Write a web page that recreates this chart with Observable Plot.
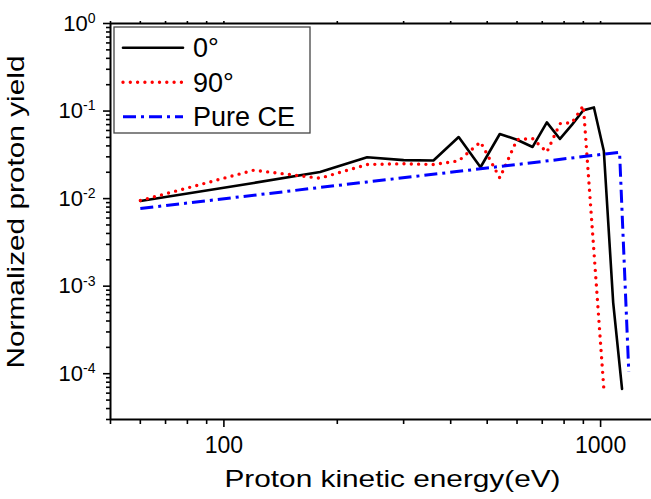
<!DOCTYPE html>
<html><head><meta charset="utf-8">
<script src="https://cdn.jsdelivr.net/npm/d3@7"></script>
<script src="https://cdn.jsdelivr.net/npm/@observablehq/plot@0.6"></script>
<style>
body{margin:0;background:#fff}
#chart svg{font-family:"Liberation Sans",Arial,sans-serif}
</style>
</head><body><div id="chart"></div>
<script>
// ---- data ----
const energy0 = [60,120,180,240,300,360,420,480,540,600,660,720,780,840,900,960,1020,1080,1140];
const yield0  = [0.0094,0.0151,0.0201,0.0297,0.0275,0.0272,0.0505,0.0228,0.0547,0.047,0.0389,0.0743,0.048,0.070,0.102,0.110,0.035,0.00065,0.000067];
const energy90 = [60,120,180,240,300,360,420,480,540,600,660,720,780,840,900,960,1020];
const yield90  = [0.0095,0.0211,0.0171,0.0245,0.025,0.0245,0.027,0.0443,0.0172,0.0472,0.0485,0.034,0.0718,0.074,0.115,0.0025,0.000067];
const energyCE = [60,240,480,1123,1188];
const yieldCE  = [0.0077,0.0155,0.0219,0.0338,0.000105];
const seriesNames = ["0°","90°","Pure CE"];
const xMajorTicks = [100,1000];
const xTickLabels = ["100","1000"];
const yMajorTicks = [1,0.1,0.01,0.001,0.0001];
const yTickExponents = ["0","-1","-2","-3","-4"];
const xTitle = "Proton kinetic energy(eV)";
const yTitle = "Normalized proton yield";

const xDomain = [50,1365], yDomain = [3e-5,1];
const xMinor = [];
for (const k of [1,2]) for (let m=2;m<=9;m++){const v=m*Math.pow(10,k); if(v>=xDomain[0]&&v<=xDomain[1]) xMinor.push(v);}
const yMinor = [];
for (let e=-5;e<=-1;e++) for (let m=2;m<=9;m++){const v=m*Math.pow(10,e); if(v>=yDomain[0]&&v<=yDomain[1]) yMinor.push(v);}

const rows = (xs, ys, s) => xs.map((x,i)=>({x, y: ys[i], s}));
const d0 = rows(energy0, yield0, seriesNames[0]);
const d90 = rows(energy90, yield90, seriesNames[1]);
const dCE = rows(energyCE, yieldCE, seriesNames[2]);

const styles = [
  {stroke:"#000000", strokeWidth:2.6, strokeDasharray:null, strokeLinecap:"round"},
  {stroke:"#ff0000", strokeWidth:3.4, strokeDasharray:"0 7.3", strokeLinecap:"round"},
  {stroke:"#0000ff", strokeWidth:3, strokeDasharray:"13 5 3 5", strokeLinecap:"butt"}
];

const chart = Plot.plot({
  width: 651, height: 499,
  marginLeft: 110, marginRight: 0, marginTop: 23, marginBottom: 80,
  style: {fontFamily: "Liberation Sans, Arial, sans-serif", background: "white", color: "black"},
  x: {type: "log", domain: xDomain},
  y: {type: "log", domain: yDomain},
  marks: [
    Plot.axisX(xMinor, {anchor: "bottom", tickSize: 5, tickFormat: () => "", label: null, strokeWidth: 1.6}),
    Plot.axisX(xMajorTicks, {anchor: "bottom", tickSize: 8, tickPadding: 9, fontSize: 23, label: null, strokeWidth: 1.6,
      tickFormat: d => xTickLabels[xMajorTicks.indexOf(d)]}),
    Plot.axisX(xMinor.concat(xMajorTicks), {anchor: "top", tickSize: 3, tickFormat: () => "", label: null, strokeWidth: 1.6}),
    Plot.axisY(yMinor, {anchor: "left", tickSize: 4, tickFormat: () => "", label: null, strokeWidth: 1.6}),
    Plot.axisY(yMajorTicks, {anchor: "left", tickSize: 7, tickPadding: 8, fontSize: 22, label: null, strokeWidth: 1.6,
      tickFormat: () => "10"}),
    Plot.ruleY([yDomain[1]], {strokeWidth: 2}),
    Plot.ruleY([yDomain[0]], {strokeWidth: 2}),
    Plot.ruleX([xDomain[0]], {strokeWidth: 2}),
    Plot.line(d0, {x: "x", y: "y", ...styles[0]}),
    Plot.line(d90, {x: "x", y: "y", ...styles[1]}),
    Plot.line(dCE, {x: "x", y: "y", ...styles[2]}),
    Plot.text([xTitle], {text: d => d, frameAnchor: "bottom", textAnchor: "middle", lineAnchor: "middle", dx: 11.5, dy: 60, fontSize: 24}),
    Plot.text([yTitle], {text: d => d, frameAnchor: "left", textAnchor: "middle", lineAnchor: "middle", rotate: -90, dx: -94.4, dy: -9.5, fontSize: 24})
  ]
});
document.getElementById("chart").appendChild(chart);

const svg = d3.select(chart);
// superscript exponents on y tick labels
svg.selectAll('g[aria-label="y-axis tick label"] text')
  .filter(function(){ return this.textContent === "10"; })
  .each(function(_, i){
    d3.select(this).append("tspan").attr("dy", "-0.55em").style("font-size", "14px").text(yTickExponents[i]);
  });
// widen the axis titles to the reference's extent
svg.selectAll("text").each(function(){
  if (this.textContent === xTitle) d3.select(this).attr("textLength", 336).attr("lengthAdjust", "spacingAndGlyphs");
  if (this.textContent === yTitle) d3.select(this).attr("textLength", 313).attr("lengthAdjust", "spacingAndGlyphs");
});

// legend
const lg = svg.append("g").attr("aria-label", "legend");
lg.append("rect").attr("x", 114).attr("y", 27).attr("width", 196).attr("height", 106)
  .attr("fill", "white").attr("stroke", "#444").attr("stroke-width", 1.3);
seriesNames.forEach((name, i) => {
  const cy = 47.7 + i * 34.5;
  const st = styles[i];
  const ln = lg.append("line").attr("x1", 123).attr("x2", 183).attr("y1", cy).attr("y2", cy)
    .attr("stroke", st.stroke).attr("stroke-width", st.strokeWidth).attr("stroke-linecap", st.strokeLinecap);
  if (st.strokeDasharray) ln.attr("stroke-dasharray", st.strokeDasharray);
  lg.append("text").attr("x", 193).attr("y", cy + 9.5)
    .style("font-size", "27px").style("text-anchor", "start").attr("fill", "black").text(name);
});
</script>
</body></html>
